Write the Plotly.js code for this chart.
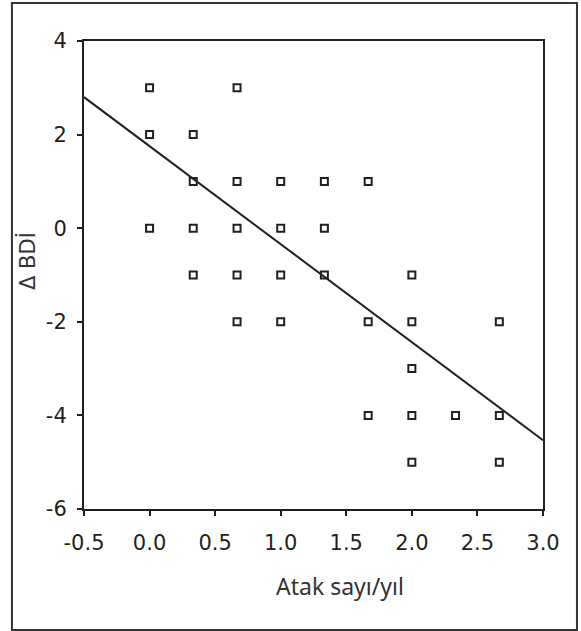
<!DOCTYPE html>
<html>
<head>
<meta charset="utf-8">
<script src="https://cdn.plot.ly/plotly-3.0.1.min.js"></script>
<style>html,body{margin:0;padding:0;background:#fff;}#chart{width:581px;height:631px;}</style>
</head>
<body>
<div id="chart"></div>
<script>
// Data
const attacksPerYear = [0, 0, 0,
  0.333, 0.333, 0.333, 0.333,
  0.667, 0.667, 0.667, 0.667, 0.667,
  1, 1, 1, 1,
  1.333, 1.333, 1.333,
  1.667, 1.667, 1.667,
  2, 2, 2, 2, 2,
  2.333,
  2.667, 2.667, 2.667];
const deltaBDI = [3, 2, 0,
  2, 1, 0, -1,
  3, 1, 0, -1, -2,
  1, 0, -1, -2,
  1, 0, -1,
  1, -2, -4,
  -1, -2, -3, -4, -5,
  -4,
  -2, -4, -5];
const fitX = [-0.5, 3.0];
const fitY = [2.80, -4.53];
const xTickVals = [-0.5, 0, 0.5, 1, 1.5, 2, 2.5, 3];
const xTickText = ['-0.5', '0.0', '0.5', '1.0', '1.5', '2.0', '2.5', '3.0'];
const yTickVals = [-6, -4, -2, 0, 2, 4];
const yTickText = ['-6', '-4', '-2', '0', '2', '4'];
const xTitle = 'Atak sayı/yıl';
const yTitle = 'Δ BDİ';

const ink = '#231f20';
const traces = [
  {x: attacksPerYear, y: deltaBDI, type: 'scatter', mode: 'markers',
   marker: {symbol: 'square-open', size: 7, color: ink, line: {width: 2, color: ink}},
   hoverinfo: 'skip'},
  {x: fitX, y: fitY, type: 'scatter', mode: 'lines',
   line: {color: ink, width: 2}, hoverinfo: 'skip'}
];
const layout = {
  width: 581, height: 631,
  margin: {l: 84, r: 38, t: 41, b: 122, pad: 0},
  paper_bgcolor: '#fff', plot_bgcolor: '#fff',
  showlegend: false,
  xaxis: {
    range: [-0.5, 3.0], tickvals: xTickVals, ticktext: xTickText,
    showgrid: false, zeroline: false,
    showline: true, linecolor: ink, linewidth: 2, mirror: true,
    ticks: 'outside', ticklen: 5, tickwidth: 2, tickcolor: ink,
    ticklabelstandoff: 9,
    tickfont: {family: 'DejaVu Sans', size: 21, color: ink}
  },
  yaxis: {
    range: [-6, 4], tickvals: yTickVals, ticktext: yTickText,
    showgrid: false, zeroline: false,
    showline: true, linecolor: ink, linewidth: 2, mirror: true,
    ticks: 'outside', ticklen: 5, tickwidth: 2, tickcolor: ink,
    ticklabelstandoff: 6,
    tickfont: {family: 'DejaVu Sans', size: 21, color: ink}
  },
  annotations: [
    {text: xTitle, xref: 'paper', yref: 'paper', x: 0.558, y: -0.164,
     xanchor: 'center', yanchor: 'middle', showarrow: false,
     font: {family: 'Noto Sans', size: 23, color: '#333'}},
    {text: yTitle, xref: 'paper', yref: 'paper', x: -0.122, y: 0.53,
     xanchor: 'center', yanchor: 'middle', showarrow: false, textangle: -90,
     font: {family: 'DejaVu Sans', size: 21, color: '#333'}}
  ],
  shapes: [{
    type: 'rect', xref: 'paper', yref: 'paper',
    x0: -0.157, x1: 1.074, y0: -0.2585, y1: 1.081,
    line: {color: '#333', width: 2}, fillcolor: 'rgba(0,0,0,0)', layer: 'below'
  }]
};
Plotly.newPlot('chart', traces, layout, {staticPlot: true, displayModeBar: false});
</script>
</body>
</html>
